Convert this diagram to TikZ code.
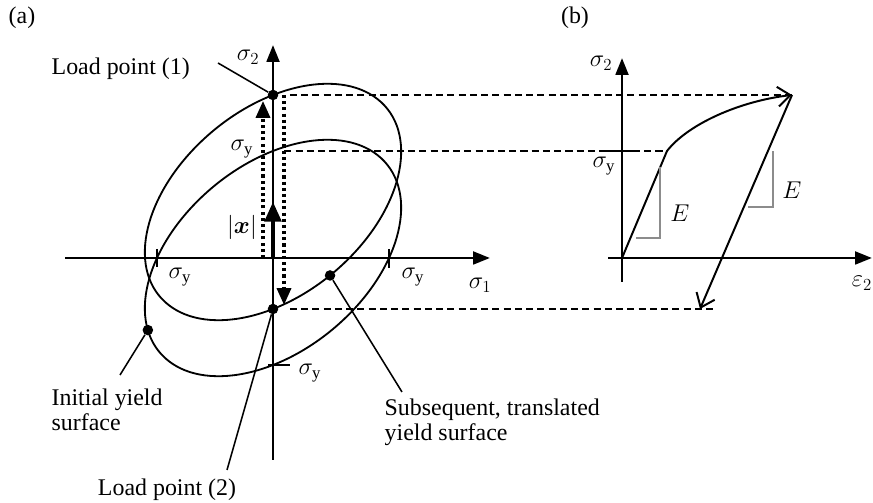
\documentclass[tikz,border=0pt]{standalone}
\usepackage{fontspec}
\setmainfont{Liberation Serif}
\usepackage{bm}
\usetikzlibrary{arrows.meta,positioning,calc}
\tikzset{
  stressaxis/.style={line width=2pt, -{Triangle[length=12pt,width=9pt]}},
  yieldsurf/.style={line width=1.3pt},
  loadpath/.style={line width=2.3pt, dash pattern=on 2.2pt off 2.2pt,
    -{Triangle[length=12pt,width=10pt]}},
  backstress/.style={line width=2.2pt, -{Triangle[length=14pt,width=12pt]}},
  projline/.style={dashed, line width=0.9pt, dash pattern=on 5pt off 3pt},
  leaderline/.style={line width=1.1pt},
  loaddot/.style={circle, fill=black, inner sep=0pt, minimum size=7.5pt},
  sytick/.style={line width=1.5pt},
  slopetri/.style={draw=black!45, line width=0.8pt},
  curvearrow/.style={line width=1.4pt, -{Straight Barb[length=9pt,width=14pt,line width=1.4pt]}},
  txt/.style={font=\fontsize{17}{18}\selectfont, inner sep=1pt},
}

\begin{document}
\begin{tikzpicture}[x=0.025cm, y=0.025cm]
  \useasboundingbox (0,0) rectangle (873,503);

  % (a) stress space
  \coordinate (O) at (273,245);
  \coordinate (C) at (273,301);
  \coordinate (sy) at (273,352);
  \coordinate (s1l) at (65,245);
  \coordinate (s1r) at (490,245);
  \coordinate (s2b) at (273,43);
  \coordinate (s2t) at (273,458);
  \draw[stressaxis] (s1l) -- (s1r);
  \draw[stressaxis] (s2b) -- (s2t);

  % initial and translated yield surfaces
  \begin{scope}[shift={(O)}, xscale=116, yscale=107]
    \draw[yieldsurf, rotate=45] (0,0) ellipse (1.3188 and 0.8377);
    \node[loaddot] (idot) at ({(1.3188*cos(160)-0.8377*sin(160))/sqrt(2)}, {(1.3188*cos(160)+0.8377*sin(160))/sqrt(2)}) {};
  \end{scope}
  \begin{scope}[shift={(C)}, xscale=116, yscale=107]
    \draw[yieldsurf, rotate=45] (0,0) ellipse (1.3188 and 0.8377);
    \node[loaddot] (sdot) at ({(1.3188*cos(264)-0.8377*sin(264))/sqrt(2)}, {(1.3188*cos(264)+0.8377*sin(264))/sqrt(2)}) {};
  \end{scope}
  \node[loaddot] (lp1) at (273,408) {};
  \node[loaddot] (lp2) at (273,194) {};

  \draw[sytick] (157,254) -- (157,236);
  \draw[sytick] (389,254) -- (389,235);
  \draw[sytick] (268,138) -- (290,138);

  % load path and back stress
  \draw[loadpath] ($(O)+(-10,0)$) -- ($(lp1)+(-10,-6)$);
  \draw[loadpath] ($(lp1)+(11,0)$) -- ($(lp2)+(11,4)$);
  \draw[backstress] (O) -- (C);

  \node[txt] (lbla) at (22,485) {(a)};
  \node[txt] (s2lbl) at (248,446) {$\sigma_2$};
  \node[txt] (s1lbl) at (480,218) {$\sigma_1$};
  \node[txt] (sylbl1) at (242,354) {$\sigma_{\mathrm{y}}$};
  \node[txt] (xlbl) at (242,276) {$|\bm{x}|$};
  \node[txt] (sylbl2) at (180,226) {$\sigma_{\mathrm{y}}$};
  \node[txt] (sylbl3) at (413,226) {$\sigma_{\mathrm{y}}$};
  \node[txt] (sylbl4) at (310,130) {$\sigma_{\mathrm{y}}$};

  \node[txt, anchor=west] (lp1txt) at (50,434) {Load point (1)};
  \coordinate (lp1end) at (218,440);
  \draw[leaderline] (lp1end) -- (lp1);
  \node[txt] (lp2txt) at (167,13) {Load point (2)};
  \coordinate (lp2end) at (227,33);
  \draw[leaderline] (lp2end) -- (lp2);
  \node[txt, anchor=west, align=left] (inittxt) at (50,93) {Initial yield\\surface};
  \coordinate (initend) at (120,128);
  \draw[leaderline] (initend) -- (idot);
  \node[txt, anchor=west, align=left] (subtxt) at (383,81) {Subsequent, translated\\yield surface};
  \coordinate (subend) at (402,111);
  \draw[leaderline] (sdot) -- (subend);

  % (b) stress-strain curve
  \coordinate (O2) at (622,245);
  \coordinate (e2l) at (608,245);
  \coordinate (e2r) at (872,245);
  \coordinate (sb) at (622,221);
  \coordinate (st) at (622,445);
  \draw[stressaxis] (e2l) -- (e2r);
  \draw[stressaxis] (sb) -- (st);
  \coordinate (K) at (667,352);
  \coordinate (P) at (792,408);
  \coordinate (U) at (700,194);
  \draw[curvearrow] (O2) -- (K) .. controls (688,379) and (740,402) .. (P);
  \draw[curvearrow] (P) -- (U);
  \draw[sytick] (606,352) -- (636,352);
  \draw[slopetri] (636,265) -| (660,336);
  \draw[slopetri] (748,296) -| (773,352);
  \node[txt] (E1) at (680,290) {$E$};
  \node[txt] (E2) at (792,313) {$E$};
  \node[txt] (lblb) at (575,485) {(b)};
  \node[txt] (s2lblb) at (601,440) {$\sigma_2$};
  \node[txt] (sylblb) at (604,337) {$\sigma_{\mathrm{y}}$};
  \node[txt] (e2lbl) at (862,220) {$\varepsilon_2$};

  % projections from (a) to (b)
  \draw[projline, shorten <=8pt] (lp1) -- (lp1 -| P);
  \draw[projline, shorten <=8pt] (sy) -- (K);
  \draw[projline, shorten <=8pt] (lp2) -- ($(U)+(13,0)$);
\end{tikzpicture}
\end{document}
